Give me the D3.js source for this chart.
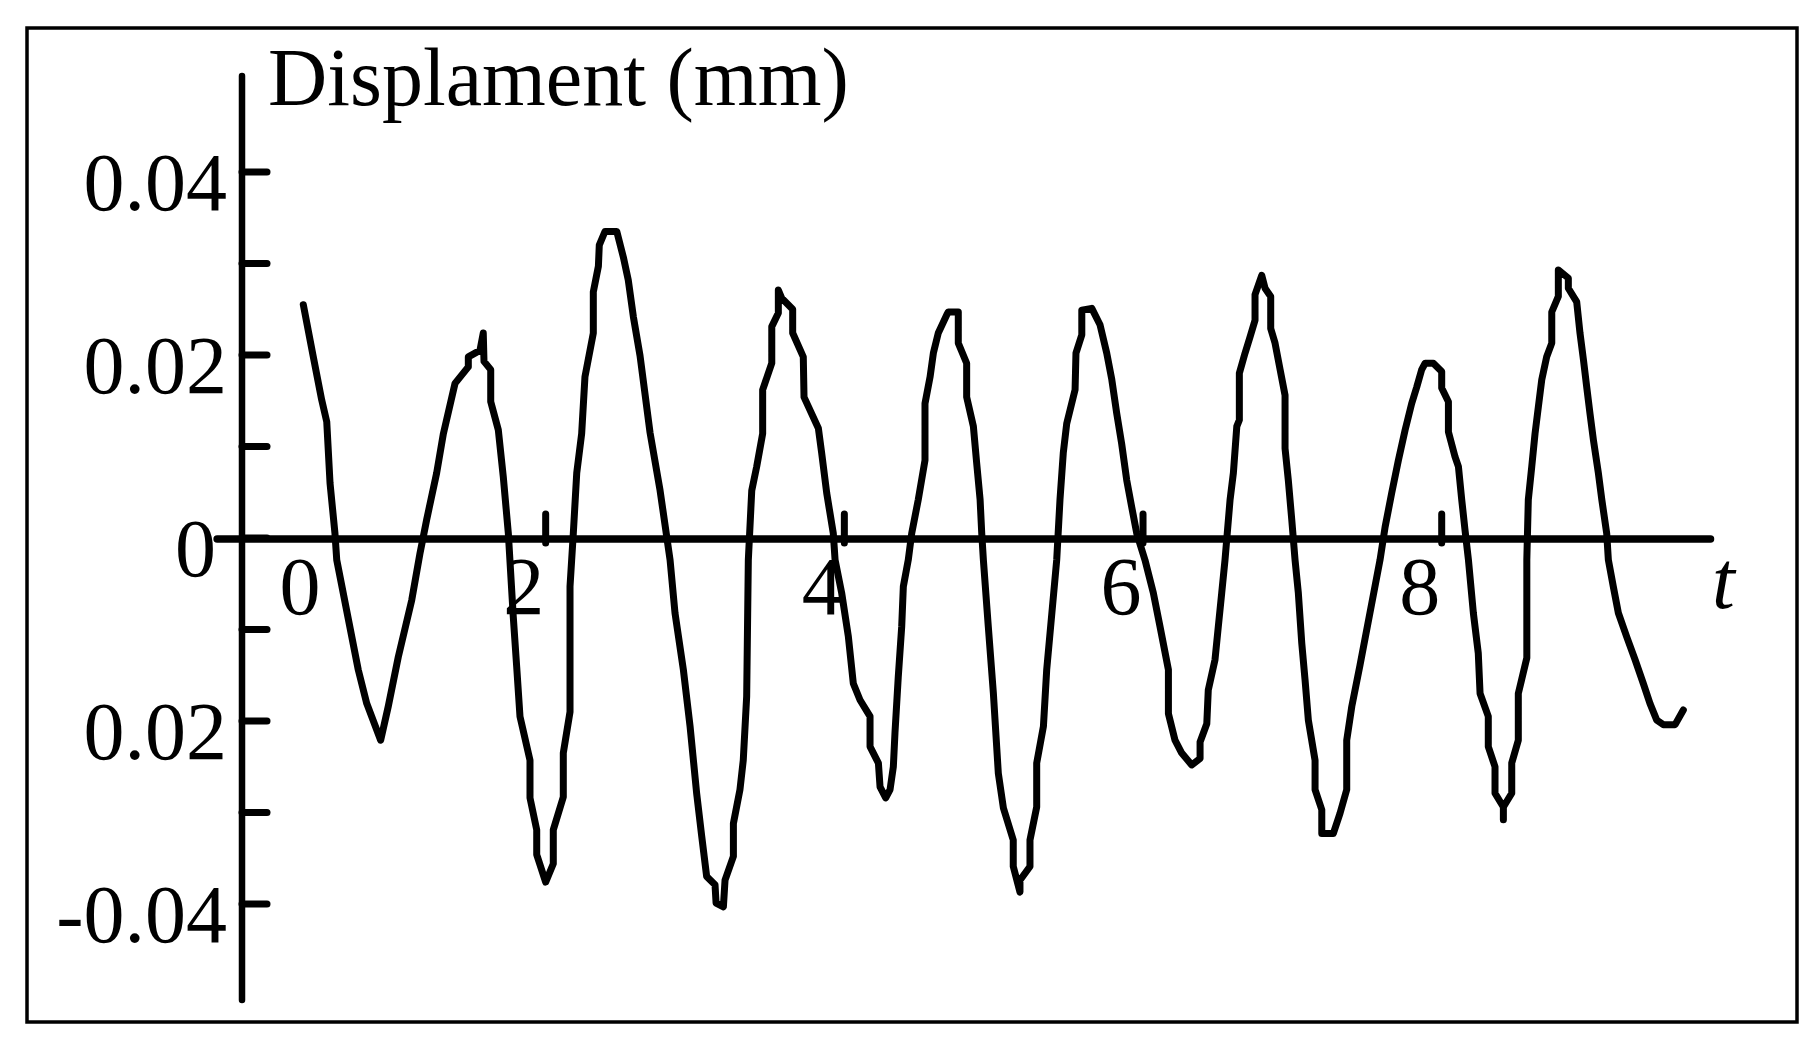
<!DOCTYPE html>
<html>
<head>
<meta charset="utf-8">
<script src="https://cdn.jsdelivr.net/npm/d3@7"></script>
<style>
  body { margin: 0; background: #fff; }
  svg { display: block; }
  text { font-family: "Liberation Serif", "Times New Roman", serif; fill: #000; }
</style>
</head>
<body>
<svg id="chart" width="1819" height="1055"></svg>
<script>
// Time (t) of each vertex of the recorded trace
const timeS = [
  0.377, 0.444, 0.500, 0.534, 0.556, 0.589, 0.601, 0.745, 0.802, 0.895,
  0.946, 1.013, 1.103, 1.158, 1.203, 1.270, 1.315, 1.393, 1.482, 1.482,
  1.560, 1.582, 1.587, 1.632, 1.632, 1.683, 1.716, 1.750, 1.783, 1.806,
  1.828, 1.895, 1.895, 1.940, 1.940, 2.000, 2.051, 2.051, 2.118, 2.118,
  2.163, 2.163, 2.185, 2.208, 2.241, 2.263, 2.319, 2.319, 2.353, 2.359,
  2.397, 2.476, 2.520, 2.553, 2.587, 2.632, 2.699, 2.766, 2.833, 2.866,
  2.922, 2.967, 3.011, 3.045, 3.078, 3.134, 3.141, 3.190, 3.201, 3.257,
  3.257, 3.301, 3.323, 3.346, 3.357, 3.380, 3.413, 3.453, 3.453, 3.514,
  3.514, 3.558, 3.558, 3.581, 3.654, 3.654, 3.725, 3.730, 3.826, 3.848,
  3.882, 3.926, 3.938, 3.982, 4.027, 4.060, 4.105, 4.172, 4.172, 4.228,
  4.239, 4.277, 4.306, 4.328, 4.339, 4.361, 4.384, 4.395, 4.428, 4.451,
  4.495, 4.540, 4.540, 4.574, 4.596, 4.629, 4.686, 4.696, 4.763, 4.763,
  4.819, 4.819, 4.864, 4.886, 4.909, 4.920, 4.931, 4.964, 4.998, 5.031,
  5.065, 5.131, 5.131, 5.176, 5.176, 5.243, 5.243, 5.288, 5.288, 5.333,
  5.355, 5.422, 5.444, 5.466, 5.489, 5.545, 5.551, 5.590, 5.590, 5.657,
  5.712, 5.757, 5.791, 5.824, 5.857, 5.891, 5.924, 5.958, 6.013, 6.069,
  6.114, 6.170, 6.170, 6.214, 6.259, 6.326, 6.382, 6.382, 6.427, 6.437,
  6.482, 6.504, 6.527, 6.549, 6.583, 6.605, 6.628, 6.645, 6.645, 6.683,
  6.717, 6.750, 6.750, 6.795, 6.817, 6.855, 6.855, 6.884, 6.918, 6.951,
  6.951, 6.973, 6.996, 7.018, 7.040, 7.063, 7.085, 7.107, 7.152, 7.152,
  7.197, 7.197, 7.274, 7.319, 7.364, 7.364, 7.398, 7.453, 7.587, 7.621,
  7.665, 7.710, 7.755, 7.799, 7.833, 7.866, 7.889, 7.944, 8.000, 8.000,
  8.045, 8.045, 8.089, 8.112, 8.134, 8.156, 8.179, 8.212, 8.245, 8.257,
  8.312, 8.312, 8.357, 8.357, 8.413, 8.413, 8.413, 8.469, 8.469, 8.513,
  8.513, 8.570, 8.570, 8.580, 8.603, 8.625, 8.647, 8.670, 8.703, 8.737,
  8.737, 8.781, 8.781, 8.848, 8.848, 8.904, 8.926, 8.949, 8.971, 8.993,
  9.016, 9.049, 9.072, 9.105, 9.116, 9.149, 9.183, 9.239, 9.295, 9.350,
  9.395, 9.440, 9.484, 9.563, 9.618
];

// Displacement (mm) at each vertex
const dispMm = [
  0.0255, 0.0198, 0.0151, 0.0127, 0.0060, 0.0005, -0.0024, -0.0144, -0.0181, -0.0221,
  -0.0184, -0.0130, -0.0068, -0.0017, 0.0020, 0.0071, 0.0114, 0.0169, 0.0187, 0.0198,
  0.0205, 0.0224, 0.0193, 0.0184, 0.0149, 0.0118, 0.0067, 0.0005, -0.0086, -0.0141,
  -0.0195, -0.0243, -0.0284, -0.0319, -0.0346, -0.0376, -0.0356, -0.0319, -0.0283, -0.0235,
  -0.0190, -0.0053, 0.0005, 0.0071, 0.0114, 0.0176, 0.0224, 0.0269, 0.0297, 0.0320,
  0.0335, 0.0335, 0.0307, 0.0282, 0.0242, 0.0199, 0.0115, 0.0052, -0.0024, -0.0082,
  -0.0144, -0.0206, -0.0279, -0.0326, -0.0370, -0.0379, -0.0399, -0.0403, -0.0374, -0.0348,
  -0.0312, -0.0275, -0.0243, -0.0173, -0.0024, 0.0052, 0.0078, 0.0114, 0.0162, 0.0191,
  0.0231, 0.0246, 0.0271, 0.0262, 0.0250, 0.0224, 0.0198, 0.0154, 0.0120, 0.0093,
  0.0049, 0.0005, -0.0024, -0.0060, -0.0108, -0.0159, -0.0177, -0.0195, -0.0228, -0.0246,
  -0.0272, -0.0284, -0.0275, -0.0250, -0.0213, -0.0152, -0.0097, -0.0053, -0.0024, 0.0005,
  0.0042, 0.0085, 0.0147, 0.0176, 0.0202, 0.0224, 0.0244, 0.0247, 0.0247, 0.0213,
  0.0191, 0.0154, 0.0122, 0.0082, 0.0042, 0.0005, -0.0024, -0.0097, -0.0170, -0.0257,
  -0.0295, -0.0330, -0.0359, -0.0387, -0.0374, -0.0359, -0.0330, -0.0294, -0.0246, -0.0206,
  -0.0144, -0.0024, 0.0042, 0.0093, 0.0125, 0.0162, 0.0202, 0.0222, 0.0249, 0.0251,
  0.0233, 0.0202, 0.0173, 0.0136, 0.0103, 0.0063, 0.0034, 0.0005, -0.0024, -0.0060,
  -0.0097, -0.0144, -0.0192, -0.0221, -0.0235, -0.0248, -0.0241, -0.0223, -0.0203, -0.0166,
  -0.0133, -0.0097, -0.0060, -0.0024, 0.0042, 0.0071, 0.0122, 0.0129, 0.0180, 0.0202,
  0.0220, 0.0238, 0.0266, 0.0287, 0.0273, 0.0264, 0.0229, 0.0213, 0.0184, 0.0156,
  0.0098, 0.0063, 0.0020, -0.0024, -0.0060, -0.0115, -0.0155, -0.0199, -0.0243, -0.0275,
  -0.0297, -0.0323, -0.0323, -0.0301, -0.0275, -0.0221, -0.0184, -0.0139, -0.0024, 0.0012,
  0.0049, 0.0085, 0.0118, 0.0147, 0.0165, 0.0184, 0.0191, 0.0191, 0.0182, 0.0164,
  0.0149, 0.0116, 0.0089, 0.0078, 0.0042, 0.0009, -0.0024, -0.0082, -0.0126, -0.0170,
  -0.0195, -0.0228, -0.0250, -0.0279, -0.0294, -0.0308, -0.0294, -0.0279, -0.0246, -0.0221,
  -0.0170, -0.0131, -0.0024, 0.0042, 0.0078, 0.0114, 0.0143, 0.0173, 0.0198, 0.0213,
  0.0247, 0.0264, 0.0293, 0.0284, 0.0273, 0.0258, 0.0224, 0.0195, 0.0165, 0.0136,
  0.0107, 0.0071, 0.0042, 0.0005, -0.0024, -0.0053, -0.0082, -0.0108, -0.0133, -0.0159,
  -0.0181, -0.0199, -0.0204, -0.0204, -0.0188
];

// Axis ticks and labels
const yTicks = [-0.04, -0.03, -0.02, -0.01, 0, 0.01, 0.02, 0.03, 0.04];
const yLabelValues = [0.04, 0.02, 0, -0.02, -0.04];
const yLabelText = ["0.04", "0.02", "0", "0.02", "-0.04"];
const xTicks = [2, 4, 6, 8];
const xLabelValues = [0, 2, 4, 6, 8];
const xLabelText = ["0", "2", "4", "6", "8"];

const svg = d3.select("#chart");

// Scales
const x = d3.scaleLinear().domain([0, 8]).range([247, 1441.7]);
const y = d3.scaleLinear().domain([-0.04, 0.04]).range([904, 172]);

// Outer frame
svg.append("rect")
  .attr("x", 27).attr("y", 28)
  .attr("width", 1770).attr("height", 994)
  .attr("fill", "none").attr("stroke", "#000").attr("stroke-width", 3.5);

// Y axis
svg.append("line")
  .attr("x1", x(0) - 5).attr("x2", x(0) - 5)
  .attr("y1", y(0.0505)).attr("y2", y(-0.0505))
  .attr("stroke", "#000").attr("stroke-width", 6.5).attr("stroke-linecap", "round");

svg.selectAll(".ytick")
  .data(yTicks)
  .join("line")
  .attr("class", "ytick")
  .attr("x1", x(0) - 5).attr("x2", x(0) + 20)
  .attr("y1", d => y(d)).attr("y2", d => y(d))
  .attr("stroke", "#000").attr("stroke-width", 7).attr("stroke-linecap", "round");

svg.selectAll(".ylabel")
  .data(yLabelValues)
  .join("text")
  .attr("class", "ylabel")
  .attr("x", d => d === 0 ? 216 : 227)
  .attr("y", d => y(d) + 37.5)
  .attr("text-anchor", "end")
  .attr("font-size", 82)
  .text((d, i) => yLabelText[i]);

// X axis
svg.append("line")
  .attr("x1", x(-0.2)).attr("x2", x(9.8))
  .attr("y1", y(0) + 1).attr("y2", y(0) + 1)
  .attr("stroke", "#000").attr("stroke-width", 7.5).attr("stroke-linecap", "round");

svg.selectAll(".xtick")
  .data(xTicks)
  .join("line")
  .attr("class", "xtick")
  .attr("x1", d => x(d)).attr("x2", d => x(d))
  .attr("y1", y(0) + 5).attr("y2", y(0) - 24)
  .attr("stroke", "#000").attr("stroke-width", 7).attr("stroke-linecap", "round");

svg.selectAll(".xlabel")
  .data(xLabelValues)
  .join("text")
  .attr("class", "xlabel")
  .attr("x", d => d === 0 ? x(d) + 53 : x(d) - 22)
  .attr("y", 614)
  .attr("text-anchor", "middle")
  .attr("font-size", 82)
  .text((d, i) => xLabelText[i]);

svg.append("text")
  .attr("x", 1712).attr("y", 608)
  .attr("font-size", 82)
  .attr("font-style", "italic")
  .text("t");

// Title
svg.append("text")
  .attr("x", 268).attr("y", 105)
  .attr("font-size", 82)
  .text("Displament (mm)");

// Trace
const points = timeS.map((t, i) => [t, dispMm[i]]);
const line = d3.line().x(d => x(d[0])).y(d => y(d[1]));

svg.append("path")
  .datum(points)
  .attr("d", line)
  .attr("fill", "none")
  .attr("stroke", "#000")
  .attr("stroke-width", 7)
  .attr("stroke-linejoin", "round")
  .attr("stroke-linecap", "round");
</script>
</body>
</html>
